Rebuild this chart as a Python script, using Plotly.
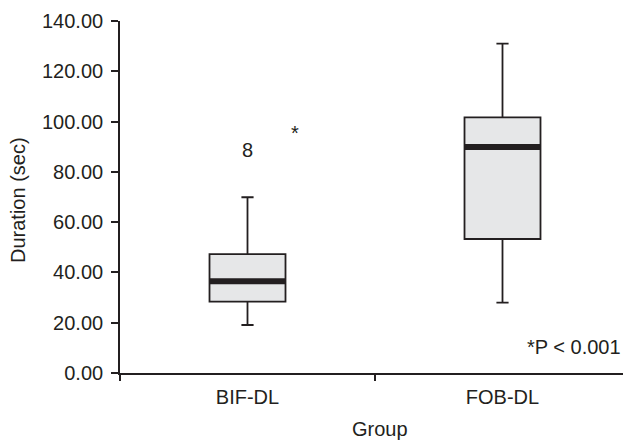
import plotly.graph_objects as go

# ---- data ----
groups = ["BIF-DL", "FOB-DL"]
group_pos = [0, 1]
q1 = [28.4, 53.3]
median = [36.5, 89.9]
q3 = [47.3, 101.7]
lower_whisker = [19.1, 28.0]
upper_whisker = [69.9, 131.0]
outlier_x = [0]
outlier_y = [88.0]
outlier_label = ["8"]
sig_mark_x = 0.186
sig_mark_y = 96.0
sig_note = "*P < 0.001"
y_ticks = [0, 20, 40, 60, 80, 100, 120, 140]

INK = "#231f20"
FILL = "#e6e7e8"
FONT = "Liberation Sans, Arial, sans-serif"
FS = 20
BOXW = 0.298

fig = go.Figure()

for i, g in enumerate(groups):
    fig.add_trace(go.Box(
        x=[group_pos[i]], q1=[q1[i]], median=[median[i]], q3=[q3[i]],
        lowerfence=[lower_whisker[i]], upperfence=[upper_whisker[i]],
        width=BOXW, whiskerwidth=0.16, fillcolor=FILL,
        line=dict(color=INK, width=1.8), boxpoints=False,
        showlegend=False, hoverinfo="skip", name=g,
    ))
    # thick median bar
    fig.add_trace(go.Scatter(
        x=[group_pos[i] - BOXW / 2, group_pos[i] + BOXW / 2],
        y=[median[i], median[i]], mode="lines",
        line=dict(color=INK, width=6), showlegend=False, hoverinfo="skip",
    ))

fig.add_trace(go.Scatter(
    x=outlier_x, y=outlier_y, mode="text", text=outlier_label,
    textfont=dict(family=FONT, size=FS, color=INK),
    showlegend=False, hoverinfo="skip",
))

fig.add_annotation(x=sig_mark_x, y=sig_mark_y, text="*", showarrow=False,
                   font=dict(family=FONT, size=FS, color=INK), yshift=-1)
fig.add_annotation(x=1.0, xref="paper", y=10.5, text=sig_note, showarrow=False,
                   xanchor="right", yanchor="middle",
                   font=dict(family=FONT, size=FS, color=INK))
fig.add_annotation(x=(18 - 120) / 503, y=(373 - 200) / 352, xref="paper", yref="paper",
                   text="Duration (sec)", textangle=-90, showarrow=False,
                   xanchor="center", yanchor="middle",
                   font=dict(family=FONT, size=FS, color=INK))
fig.add_annotation(x=(380 - 120) / 503, y=(373 - 429) / 352, xref="paper", yref="paper",
                   text="Group", showarrow=False, xanchor="center", yanchor="middle",
                   font=dict(family=FONT, size=FS, color=INK))

xr = [-0.5, -0.5 + 503 / 255]

fig.update_layout(
    width=623, height=440,
    margin=dict(l=120, r=0, t=21, b=67, pad=0),
    plot_bgcolor="white", paper_bgcolor="white",
    font=dict(family=FONT, size=FS, color=INK),
    xaxis=dict(
        range=xr, tickvals=group_pos, ticktext=groups, ticks="outside",
        ticklen=5, tickcolor="rgba(0,0,0,0)", automargin=False,
        showline=True, linecolor=INK, linewidth=1.7, showgrid=False,
        zeroline=False, tickfont=dict(size=FS, color=INK),
    ),
    xaxis2=dict(
        range=xr, overlaying="x", side="bottom", anchor="y",
        tickvals=[-0.5, 0.5, 1.5], ticks="outside", ticklen=7, tickwidth=1.6,
        tickcolor=INK, showticklabels=False, showgrid=False, zeroline=False,
        showline=False, automargin=False,
    ),
    yaxis=dict(
        range=[0, 140], tickvals=y_ticks, tickformat=".2f", ticks="outside",
        ticklen=7, tickwidth=1.6, tickcolor=INK, showline=True, linecolor=INK,
        linewidth=1.7, showgrid=False, zeroline=False, automargin=False,
        ticklabelstandoff=4, tickfont=dict(size=FS, color=INK),
    ),
)
# dummy trace to activate xaxis2
fig.add_trace(go.Scatter(x=[None], y=[None], xaxis="x2", showlegend=False, hoverinfo="skip"))

fig.write_html(
    "out.html",
    config={"displayModeBar": False},
    post_script="document.body.style.margin='0';document.body.style.overflow='hidden';",
)
